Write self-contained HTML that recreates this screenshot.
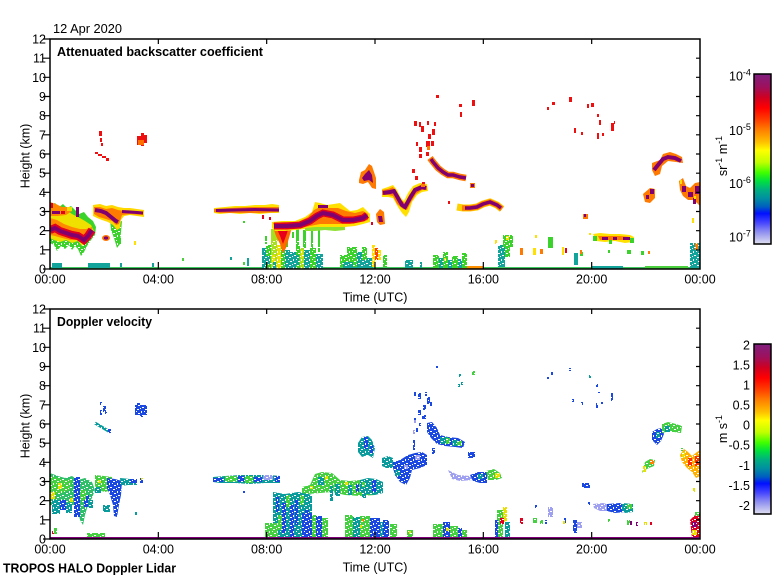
<!DOCTYPE html>
<html><head><meta charset="utf-8"><style>
html,body{margin:0;padding:0;background:#fff;}
svg{display:block;font-family:"Liberation Sans",Arial,sans-serif;}
</style></head><body>
<svg width="780" height="580" viewBox="0 0 780 580" xmlns="http://www.w3.org/2000/svg">
<defs>
<linearGradient id="cb" x1="0" y1="0" x2="0" y2="1">
<stop offset="0" stop-color="#7f1f7f"/>
<stop offset="0.08" stop-color="#a0105a"/>
<stop offset="0.14" stop-color="#d00020"/>
<stop offset="0.20" stop-color="#ff0000"/>
<stop offset="0.27" stop-color="#ff4000"/>
<stop offset="0.33" stop-color="#ff8000"/>
<stop offset="0.40" stop-color="#ffc000"/>
<stop offset="0.45" stop-color="#ffff00"/>
<stop offset="0.52" stop-color="#c0ff00"/>
<stop offset="0.58" stop-color="#40ff00"/>
<stop offset="0.63" stop-color="#00e040"/>
<stop offset="0.68" stop-color="#00b080"/>
<stop offset="0.73" stop-color="#0090a0"/>
<stop offset="0.78" stop-color="#0060c0"/>
<stop offset="0.82" stop-color="#0010ff"/>
<stop offset="0.87" stop-color="#4040ff"/>
<stop offset="0.93" stop-color="#9090f0"/>
<stop offset="1" stop-color="#e0e0f0"/>
</linearGradient>
<pattern id="sp" x="0" y="0" width="8" height="8" patternUnits="userSpaceOnUse">
<rect x="1" y="1" width="2" height="1" fill="#fff"/>
<rect x="5" y="3" width="1" height="2" fill="#fff"/>
<rect x="2" y="5" width="2" height="1" fill="#fff"/>
<rect x="6" y="7" width="2" height="1" fill="#fff"/>
<rect x="0" y="3" width="1" height="1" fill="#fff"/>
<rect x="4" y="0" width="1" height="1" fill="#fff"/>
</pattern>
<clipPath id="c1"><rect x="50" y="39" width="650" height="230"/></clipPath>
<clipPath id="c2"><rect x="50" y="309" width="650" height="230"/></clipPath>
</defs>
<rect width="780" height="580" fill="#fff"/>

<!-- ================= TOP PANEL DATA ================= -->
<g clip-path="url(#c1)">
<!-- ground -->
<rect x="50" y="267" width="650" height="2" fill="#40c860"/>
<path fill="#12a39a" d="M52 263h10v5h-10z M88 263h22v5h-22z M120 263h2v4h-2z M152 263h2v4h-2z M230 257h2v3h-2z M247 258h2v8h-2z M592 266h31v3h-31z M353 260h20v8h-20z M405 260h8v8h-8z"/>
<path fill="#4cd040" d="M182 258h2v3h-2z M243 262h2v3h-2z M645 266h43v3h-43z"/>
<path fill="#ff9000" d="M457 266h26v3h-26z"/>

<!-- left complex 00:00-01:20 -->
<polygon fill="#3cd22c" points="50,205 55,203 59,207 63,204 67,208 71,206 75,210 79,214 84,212 88,217 93,221 96,227 95,235 91,240 87,246 84,252 81,256 78,249 75,246 72,250 69,245 65,249 61,246 57,251 54,245 50,243"/>
<rect x="50" y="236" width="46" height="21" fill="url(#sp)"/>
<polygon fill="#f0e000" points="50,211 55,208 60,212 66,210 72,214 78,217 85,221 91,225 94,231 90,237 86,242 82,246 78,241 72,243 66,240 60,242 54,240 50,238"/>
<polygon fill="#ff8a00" points="50,218 57,220 64,224 72,227 80,229 86,229 92,227 93,234 88,240 84,245 78,240 70,240 62,238 55,236 50,235"/>
<polygon fill="#ff8a00" points="50,202 56,204 62,207 68,207 72,211 66,215 58,216 50,216"/>
<polyline fill="none" stroke="#e00020" stroke-width="8" points="50,230 55,228 60,231 66,233 72,235 78,236 84,240 88,236 92,230"/>
<polyline fill="none" stroke="#800070" stroke-width="4" points="50,230 55,228 60,231 66,233 72,235 78,236 84,240 88,236 92,230"/>
<path fill="#800070" d="M52 211h8v3h-8z M76 207h3v10h-3z"/>
<path fill="#e00020" d="M61 211h4v3h-4z M50 203h3v5h-3z"/>
<path fill="#f0e000" d="M67 207h5v4h-5z"/>

<!-- 01:30-02:40 cloud -->
<polygon fill="#3cd22c" points="110,220 119,222 122,221 121,232 120,244 117,248 114,238 111,230"/>
<rect x="110" y="226" width="13" height="22" fill="url(#sp)"/>
<polygon fill="#ffd800" points="93,205 100,204 106,206 112,205 118,207 124,208 130,208 137,209 144,210 144,217 137,216 130,215 124,216 121,220 120,228 117,230 113,225 108,222 102,220 97,218 93,216"/>
<polygon fill="#ff7a00" points="94,207 100,207 106,209 112,208 118,210 124,211 130,211 137,212 143,212 143,215 130,214 122,215 119,224 116,225 112,221 106,219 99,217 94,214"/>
<polyline fill="none" stroke="#800070" stroke-width="4" points="95,210 101,211 106,213 111,217 116,221 118,222"/>
<polyline fill="none" stroke="#800070" stroke-width="3" points="122,211.5 130,212 137,212.5 143,213"/>
<ellipse cx="106" cy="238" rx="4" ry="3" fill="#ff7a00"/>
<ellipse cx="106" cy="238" rx="2.2" ry="1.6" fill="#800070"/>
<path fill="#3cd22c" d="M118 238h3v6h-3z"/>
<path fill="#ffe000" d="M134 241h2v4h-2z"/>

<!-- high red bits early -->
<path fill="#ee1010" d="M99 131h3v5h-3z M100 138h2v4h-2z M101 143h2v3h-2z M137 136h4v9h-4z M141 133h3v13h-3z M144 135h3v8h-3z M95 152h3v2h-3z M98 154h4v2h-4z M102 156h4v2h-4z M106 158h3v3h-3z"/>
<path fill="#ff7000" d="M138 140h6v5h-6z"/>

<!-- 06:00-08:00 band -->
<polygon fill="#ffe000" points="214,208 225,207 235,206 245,206 255,205 265,205 272,204 279,205 279,213 270,213 260,214 250,213 240,214 230,213 220,214 214,213"/>
<polygon fill="#ff7a00" points="214,209 230,208 250,207 270,207 279,207 279,212 260,213 240,213 220,213 214,212"/>
<polyline fill="none" stroke="#800070" stroke-width="3" points="216,210.5 235,210 255,209.5 279,210"/>
<path fill="#e00020" d="M262 215h2v4h-2z M269 217h2v3h-2z"/>
<path fill="#3cd22c" d="M243 221h2v2h-2z"/>

<!-- 08:00 cloud: streaks below -->
<path fill="#12a39a" d="M262 248h4v21h-4z M285 250h5v19h-5z M290 252h6v17h-6z M304 250h6v19h-6z M316 254h7v15h-7z"/>
<path fill="#3cd22c" d="M266 245h5v24h-5z M281 246h4v23h-4z M296 246h4v23h-4z M310 248h6v21h-6z"/>
<path fill="#a8e020" d="M271 240h6v29h-6z M300 248h4v21h-4z"/>
<path fill="#f0e000" d="M277 245h4v24h-4z M272 255h3v8h-3z M301 250h2v8h-2z"/>
<path fill="#12a39a" d="M266 256h4v8h-4z M296 255h3v10h-3z M273 262h3v7h-3z"/>
<path fill="#3cd22c" d="M286 229h2v18h-2z M296 229h3v18h-3z M303 230h3v18h-3z M311 229h2v19h-2z M318 230h2v22h-2z M292 232h2v6h-2z M265 236h2v8h-2z"/>
<path fill="#a8e020" d="M271 229h7v12h-7z"/>
<rect x="262" y="240" width="62" height="29" fill="url(#sp)"/>
<polygon fill="#ff6a00" points="273,227 292,227 289,238 286,248 283,253 280,244 276,236"/>
<polygon fill="#e8001a" points="276,227 289,227 286,236 283,244 280,236"/>
<!-- 08:00 cloud layer -->
<polygon fill="#ffe000" points="272,222 282,221 295,221 305,217 312,212 315,202 320,203 327,205 334,204 340,203 345,207 350,211 357,210 363,207 368,212 370,214 370,222 363,224 355,226 345,227 335,227 325,227 315,228 305,229 295,230 285,231 275,231 272,228"/>
<polygon fill="#8ee030" points="305,228 315,227 325,227 335,227 345,227 345,230 335,231 325,230 315,231 305,231"/>
<polygon fill="#ff7a00" points="273,223 285,222 298,222 308,217 314,210 320,207 328,208 338,208 346,211 355,213 363,211 368,214 368,220 360,222 350,224 340,224 330,224 320,224 310,226 300,228 288,229 276,229"/>
<polyline fill="none" stroke="#e00020" stroke-width="7" points="274,226 287,226 300,225 310,221 317,216 323,213 333,215 343,220 353,220 363,218 367,215"/>
<polyline fill="none" stroke="#800070" stroke-width="4" points="274,226 287,226 300,225 310,221 317,216 323,213 333,215 343,220 353,220 363,218 367,215"/>
<path fill="#800070" d="M318 205h10v3h-10z"/>
<!-- small cloud at 12:00 -->
<polygon fill="#ff7a00" points="376,214 380,209 384,212 385,224 380,225 377,222"/>
<polygon fill="#800070" points="378,216 382,216 383,222 379,222"/>
<path fill="#e00020" d="M371 222h2v3h-2z"/>

<!-- ground stuff 12:00-13:30 -->
<path fill="#3cd22c" d="M347 247h10v20h-10z M362 247h5v13h-5z M340 255h7v12h-7z M383 255h4v12h-4z"/>
<path fill="#12a39a" d="M357 252h5v15h-5z M367 258h5v10h-5z M343 262h10v6h-10z"/>
<path fill="#ffe000" d="M372 245h3v22h-3z M378 250h3v10h-3z"/>
<path fill="#ff4000" d="M375 248h3v12h-3z"/>
<path fill="#3cd22c" d="M433 255h6v13h-6z M443 252h5v16h-5z M452 256h6v12h-6z M462 253h5v15h-5z"/>
<path fill="#12a39a" d="M439 258h4v10h-4z M448 260h4v8h-4z M458 259h4v9h-4z M420 262h2v6h-2z"/>
<path fill="#ffe000" d="M444 258h2v3h-2z"/>
<rect x="338" y="244" width="130" height="23" fill="url(#sp)"/>

<!-- cloud 12:10 -->
<polygon fill="#ff7a00" points="359,180 361,172 365,170 369,164 372,166 374,172 376,178 376,189 372,188 368,182 363,184 359,183"/>
<polygon fill="#800070" points="362,178 365,174 369,170 372,175 373,183 369,180 364,181"/>
<!-- wave 12:30-14:00 -->
<polygon fill="#ffe000" points="382,189 388,187 393,185 397,190 401,198 404,201 408,193 413,186 420,183 427,184 428,191 422,192 417,195 412,202 409,212 406,217 402,213 398,207 393,198 388,197 382,197"/>
<polygon fill="#ff7a00" points="382,190 388,189 393,187 397,193 401,200 405,203 409,195 414,188 421,185 427,186 427,190 422,190 416,194 411,202 407,210 403,209 397,204 393,196 388,195 382,195"/>
<polyline fill="none" stroke="#800070" stroke-width="4" points="383,193 390,192 394,191 398,198 402,205 405,207 410,198 415,190 422,187 426,188"/>
<!-- red rising -->
<path fill="#ee1010" d="M414 121h3v5h-3z M419 122h2v5h-2z M421 126h3v6h-3z M427 121h2v4h-2z M434 122h2v4h-2z M432 129h3v6h-3z M428 134h3v5h-3z M426 141h4v6h-4z M431 141h3v5h-3z M416 142h2v4h-2z M419 147h3v5h-3z M419 154h3v4h-3z M426 152h3v4h-3z M412 169h3v4h-3z M415 176h3v4h-3z M422 182h3v4h-3z M436 95h3v3h-3z M459 104h3v3h-3z M460 112h2v5h-2z M472 100h3v6h-3z M448 201h2v3h-2z"/>
<path fill="#ff7a00" d="M427 146h3v4h-3z M421 184h4v3h-4z"/>
<!-- band 14:20-15:30 -->
<polyline fill="none" stroke="#ff7a00" stroke-width="6.5" points="430,158 433,162 438,168 443,172 448,175 453,175 460,177 466,178"/>
<polyline fill="none" stroke="#800070" stroke-width="3.5" points="431,159 433,162 438,168 443,172 448,175 453,175 460,177 466,178"/>
<path fill="#ff7a00" d="M470 183h5v5h-5z"/>
<path fill="#800070" d="M471 184h3v3h-3z"/>
<!-- band 15:30-16:40 -->
<polyline fill="none" stroke="#ffd000" stroke-width="7" points="457,207 463,208 470,208 477,207 483,204 490,202 497,205 502,209"/>
<polyline fill="none" stroke="#ff7a00" stroke-width="5.5" points="462,208 470,208 477,207 483,204 490,202 497,205 502,209"/>
<polyline fill="none" stroke="#800070" stroke-width="3.5" points="465,208 470,208 477,207 483,204 490,202 497,205 501,208"/>

<!-- right side -->
<path fill="#ee1010" d="M552 102h3v3h-3z M569 97h3v5h-3z M547 107h2v3h-2z M587 104h2v4h-2z M591 103h3v4h-3z M597 114h2v3h-2z M599 120h2v5h-2z M611 123h3v8h-3z M614 121h1v3h-1z M574 128h2v5h-2z M581 132h2v3h-2z M597 133h2v6h-2z M602 133h2v3h-2z"/>
<path fill="#ff7a00" d="M583 214h5v5h-5z"/>
<path fill="#800070" d="M584 214h2v3h-2z"/>
<polygon fill="#ffe000" points="593,234 600,233 610,234 620,234 630,235 634,237 633,242 625,243 615,241 605,242 596,241"/>
<polygon fill="#ff7a00" points="598,236 610,236 620,236 630,237 630,240 620,240 610,240 600,240"/>
<path fill="#800070" d="M602 237h6v3h-6z M613 237h4v3h-4z M623 237h7v3h-7z"/>
<path fill="#3cd22c" d="M593 236h4v5h-4z M630 238h4v5h-4z M609 240h3v4h-3z"/>
<polygon fill="#ff7a00" points="643,194 650,188 655,189 655,198 650,203 645,202"/>
<path fill="#800070" d="M650 189h4v5h-4z M646 195h3v4h-3z"/>
<polygon fill="#ff7a00" points="652,163 660,160 663,154 670,152 676,154 682,157 683,163 676,162 668,161 662,166 660,174 655,176 652,170"/>
<polyline fill="none" stroke="#800070" stroke-width="4" points="654,170 658,165 663,159 668,157 675,158 681,161"/>
<polygon fill="#ff7a00" points="679,181 683,178 686,186 690,188 695,183 700,182 700,206 694,200 688,200 683,196 680,190"/>
<path fill="#800070" d="M682 186h4v6h-4z M688 192h5v5h-5z M695 186h5v8h-5z M693 198h3v6h-3z"/>
<path fill="#ffe000" d="M680 180h2v4h-2z M694 196h2v3h-2z M692 218h2v5h-2z"/>
<!-- right ground -->
<path fill="#12a39a" d="M498 245h7v22h-7z M574 253h4v12h-4z M690 243h10v25h-10z"/>
<path fill="#3cd22c" d="M503 235h10v12h-10z M505 247h5v10h-5z M548 237h5v11h-5z M608 250h2v3h-2z M580 252h3v4h-3z M627 250h4v4h-4z M641 251h3v4h-3z"/>
<path fill="#ffe000" d="M495 240h2v4h-2z M535 235h2v3h-2z M533 248h3v7h-3z M562 247h2v8h-2z M589 233h2v2h-2z M506 236h3v4h-3z"/>
<path fill="#ff7a00" d="M520 248h3v7h-3z M540 249h3v5h-3z M580 250h2v4h-2z M695 243h3v7h-3z M648 251h2v3h-2z"/>
<path fill="#e00020" d="M565 248h2v5h-2z"/>
<rect x="495" y="234" width="20" height="33" fill="url(#sp)"/>
<rect x="688" y="242" width="12" height="25" fill="url(#sp)"/>
</g>

<!-- ================= BOTTOM PANEL DATA ================= -->
<g clip-path="url(#c2)">
<!-- left complex -->
<polygon fill="#2fbf6a" points="50,473 58,476 65,478 72,476 78,480 85,478 92,482 95,490 92,498 88,505 85,515 83,525 80,520 77,505 72,505 68,510 63,505 58,510 54,505 50,505"/>
<polygon fill="#44d040" points="50,476 58,478 66,480 72,479 70,490 62,493 54,494 50,493"/>
<path fill="#e8e000" d="M50 492h5v7h-5z M58 483h4v6h-4z M70 498h3v4h-3z"/>
<path fill="#1a48e0" d="M74 477h6v40h-6z M60 500h6v10h-6z M84 495h5v12h-5z"/>
<path fill="#0a9c9c" d="M52 500h8v14h-8z M66 503h6v10h-6z M88 500h5v8h-5z"/>
<path fill="#44d040" d="M80 490h6v10h-6z"/>
<path fill="#e00020" d="M52 531h2v3h-2z"/>
<path fill="#44d040" d="M87 533h18v4h-18z M54 528h3v6h-3z"/>
<!-- 01:30-02:40 -->
<polygon fill="#44d040" points="95,475 104,476 112,477 112,490 105,492 98,490 95,486"/>
<polygon fill="#1a48e0" points="107,478 115,479 122,481 121,495 119,505 117,517 114,516 113,505 110,495 107,488"/>
<polygon fill="#0a9c9c" points="120,478 130,479 137,480 137,485 128,485 121,486"/>
<path fill="#1a48e0" d="M130 479h7v4h-7z M140 478h3v5h-3z"/>
<path fill="#0a9c9c" d="M103 505h7v7h-7z M135 512h2v3h-2z M95 487h6v6h-6z"/>
<path fill="#e8e000" d="M98 480h3v3h-3z M141 478h2v2h-2z"/>
<!-- h7 blobs -->
<path fill="#1a48e0" d="M100 402h2v3h-2z M103 406h3v6h-3z M100 410h2v5h-2z M105 412h2v2h-2z M135 405h12v10h-12z M137 403h3v3h-3z M140 414h3v3h-3z"/>
<polyline fill="none" stroke="#0a9c9c" stroke-width="3" points="95,423 100,426 105,429 110,432"/>
<path fill="#1a48e0" d="M108 429h3v4h-3z"/>
<!-- 06:00-08:00 band -->
<polygon fill="#0a9c9c" points="213,477 225,476 240,475 255,475 270,475 280,476 280,483 265,483 250,484 235,483 220,483 213,482"/>
<path fill="#44d040" d="M225 476h12v6h-12z M245 476h8v7h-8z"/>
<path fill="#1a48e0" d="M213 478h10v4h-10z M238 476h6v6h-6z M254 477h8v5h-8z M275 476h5v6h-5z"/>
<path fill="#a0a0f0" d="M263 475h10v5h-10z"/>
<path fill="#1a48e0" d="M243 491h2v2h-2z"/>
<!-- 08:00 cloud -->
<polygon fill="#0a9c9c" points="273,492 285,494 298,492 305,493 312,495 312,538 273,538"/>
<path fill="#1a48e0" d="M282 503h4v30h-4z M290 505h4v32h-4z M295 500h3v25h-3z M276 497h3v15h-3z M305 510h4v20h-4z"/>
<path fill="#44d040" d="M265 523h13v15h-13z M286 495h4v12h-4z M300 495h4v10h-4z M278 515h4v15h-4z"/>
<polygon fill="#44d040" points="302,487 310,485 315,474 322,472 332,473 340,480 350,481 360,480 370,481 375,484 375,495 360,496 345,495 332,492 320,493 308,494 302,493"/>
<path fill="#0a9c9c" d="M318 477h6v8h-6z M335 484h5v12h-5z M348 485h4v10h-4z M362 486h4v12h-4z M330 486h3v15h-3z"/>
<path fill="#e8e000" d="M325 476h3v4h-3z M345 482h3v3h-3z M310 486h3v3h-3z"/>
<path fill="#1a48e0" d="M356 484h3v8h-3z M370 488h3v5h-3z"/>
<!-- ground stuff 08-13 -->
<path fill="#1a48e0" d="M302 513h10v25h-10z M316 516h6v22h-6z M370 518h10v20h-10z M383 520h6v18h-6z"/>
<path fill="#44d040" d="M312 515h4v23h-4z M322 518h6v20h-6z M345 515h8v23h-8z M360 516h10v22h-10z M390 524h7v14h-7z M407 530h6v8h-6z"/>
<path fill="#0a9c9c" d="M353 517h7v21h-7z M380 522h3v16h-3z"/>
<path fill="#e8e000" d="M360 525h2v3h-2z M409 531h2v3h-2z"/>
<path fill="#ff8000" d="M362 519h2v3h-2z"/>
<!-- 12:00-13:30 aloft -->
<polygon fill="#0a9c9c" points="358,443 362,437 368,436 372,440 375,448 373,458 368,455 362,457 358,452"/>
<path fill="#1a48e0" d="M364 437h4v12h-4z M370 445h3v8h-3z"/>
<polygon fill="#0a9c9c" points="360,480 368,478 376,479 383,482 383,493 375,495 366,494 360,492"/>
<path fill="#1a48e0" d="M372 480h4v12h-4z"/>
<path fill="#44d040" d="M362 482h3v5h-3z"/>
<polygon fill="#0a9c9c" points="382,458 388,456 393,458 393,468 386,468 382,466"/>
<polygon fill="#1a48e0" points="393,462 400,460 408,455 415,453 422,452 427,455 427,465 420,468 412,470 410,478 406,485 400,482 395,475 393,468"/>
<path fill="#a0a0f0" d="M415 455h5v5h-5z M404 465h4v4h-4z"/>
<path fill="#0a9c9c" d="M395 470h5v6h-5z"/>
<!-- scattered rising -->
<path fill="#1a48e0" d="M414 391h2v5h-2z M418 393h3v6h-3z M425 392h2v4h-2z M427 397h3v7h-3z M430 402h2v4h-2z M423 405h3v5h-3z M418 410h3v5h-3z M422 415h4v4h-4z M414 418h2v6h-2z M419 423h2v3h-2z M416 428h2v4h-2z M413 440h2v10h-2z M436 366h2v2h-2z M551 372h2v3h-2z M547 377h2v2h-2z M569 368h2v3h-2z M596 384h2v3h-2z M598 391h2v2h-2z M611 393h2v8h-2z M572 399h2v3h-2z M581 402h2v3h-2z M596 403h2v5h-2z M601 402h2v2h-2z"/>
<path fill="#a0a0f0" d="M414 420h2v3h-2z M413 430h2v4h-2z"/>
<path fill="#0a9c9c" d="M459 374h2v3h-2z M458 384h2v3h-2z M461 382h2v3h-2z M589 375h2v3h-2z"/>
<path fill="#44d040" d="M472 371h3v4h-3z"/>
<!-- band 14:10-15:30 -->
<polygon fill="#1a48e0" points="427,423 432,422 437,428 440,435 448,437 458,438 465,442 463,448 455,447 445,446 437,444 431,438 427,432"/>
<path fill="#0a9c9c" d="M440 437h8v7h-8z M452 440h6v6h-6z"/>
<path fill="#44d040" d="M446 438h4v6h-4z M457 441h5v5h-5z"/>
<path fill="#1a48e0" d="M468 452h7v6h-7z M432 448h3v6h-3z"/>
<!-- band 15:20-16:40 -->
<polygon fill="#a0a0f0" points="448,470 458,475 470,476 473,480 460,481 452,479"/>
<polygon fill="#1a48e0" points="470,475 478,472 487,472 487,483 480,483 473,481"/>
<polygon fill="#44d040" points="486,471 494,469 500,473 502,478 496,480 488,480"/>
<path fill="#0a9c9c" d="M478 474h5v5h-5z"/>
<path fill="#e8e000" d="M495 473h5v5h-5z"/>
<!-- near ground 14:00-16:40 -->
<path fill="#44d040" d="M433 524h10v14h-10z M450 526h8v12h-8z M462 530h5v8h-5z M497 510h6v27h-6z"/>
<path fill="#1a48e0" d="M443 522h7v16h-7z M458 528h4v10h-4z M495 520h3v17h-3z"/>
<path fill="#e8e000" d="M503 507h4v15h-4z M446 528h3v3h-3z"/>
<path fill="#e00020" d="M500 518h4v6h-4z M520 518h3v6h-3z"/>
<path fill="#0a9c9c" d="M505 522h5v15h-5z"/>
<!-- right side -->
<path fill="#1a48e0" d="M582 483h8v5h-8z M588 502h2v3h-2z M535 505h2v3h-2z M545 520h2v4h-2z M573 520h4v13h-4z M564 518h2v5h-2z"/>
<path fill="#a0a0f0" d="M548 507h5v10h-5z M577 522h5v6h-5z"/>
<path fill="#44d040" d="M533 518h4v5h-4z M540 520h3v4h-3z M608 519h2v3h-2z M627 520h3v5h-3z"/>
<path fill="#e8e000" d="M563 521h2v3h-2z M644 522h3v3h-3z"/>
<path fill="#800078" d="M636 522h2v4h-2z M630 521h2v4h-2z"/>
<path fill="#e00020" d="M650 522h2v4h-2z"/>
<polygon fill="#a0a0f0" points="593,504 603,503 610,505 610,511 600,511 594,508"/>
<polygon fill="#1a48e0" points="607,504 620,503 625,506 625,512 615,513 607,511"/>
<polygon fill="#0a9c9c" points="622,503 633,504 633,512 625,513 622,510"/>
<path fill="#44d040" d="M627 504h5v5h-5z"/>
<polygon fill="#1a48e0" points="652,432 657,429 662,428 664,434 661,441 657,445 652,440"/>
<polygon fill="#44d040" points="662,424 668,422 676,424 682,426 681,433 674,432 666,432 662,433"/>
<path fill="#0a9c9c" d="M665 426h5v6h-5z M656 432h4v6h-4z"/>
<polygon fill="#44d040" points="645,462 650,459 655,460 654,466 649,468 645,470 642,473"/>
<path fill="#e8e000" d="M643 466h3v6h-3z"/>
<path fill="#ff8000" d="M650 460h4v4h-4z"/>
<polygon fill="#ffb000" points="680,455 684,449 688,452 692,456 697,452 700,450 700,476 696,478 692,472 687,468 682,462"/>
<path fill="#ff3000" d="M688 458h4v8h-4z M695 456h4v10h-4z"/>
<path fill="#e8e000" d="M682 452h3v6h-3z M693 488h2v4h-2z"/>
<path fill="#44d040" d="M681 448h2v3h-2z"/>
<polygon fill="#e00020" points="690,520 695,515 700,513 700,538 692,538"/>
<path fill="#800078" d="M692 522h5v5h-5z"/>
<path fill="#e8e000" d="M692 530h5v5h-5z"/>
<path fill="#44d040" d="M695 512h4v4h-4z"/>
<!-- speckle over doppler data -->
<rect x="50" y="309" width="650" height="228" fill="url(#sp)"/>
<rect x="50" y="537" width="650" height="2.5" fill="#800078"/>
</g>

<!-- ================= AXES ================= -->
<g fill="none" stroke="#000" stroke-width="1.5">
<rect x="50" y="39" width="650" height="230"/>
<rect x="50" y="309" width="650" height="230"/>
</g>
<g stroke="#000" stroke-width="1.2" fill="none">
<path d="M43 269H50M43 249.83H50M43 230.67H50M43 211.5H50M43 192.33H50M43 173.17H50M43 154H50M43 134.83H50M43 115.67H50M43 96.5H50M43 77.33H50M43 58.17H50M43 39H50"/>
<path d="M696 249.83H700M696 230.67H700M696 211.5H700M696 192.33H700M696 173.17H700M696 154H700M696 134.83H700M696 115.67H700M696 96.5H700M696 77.33H700M696 58.17H700"/>
<path d="M158.33 39V44M266.67 39V44M375 39V44M483.33 39V44M591.67 39V44"/>
<path d="M158.33 269V262M266.67 269V262M375 269V262M483.33 269V262M591.67 269V262"/>
<path d="M43 539H50M43 519.83H50M43 500.67H50M43 481.5H50M43 462.33H50M43 443.17H50M43 424H50M43 404.83H50M43 385.67H50M43 366.5H50M43 347.33H50M43 328.17H50M43 309H50"/>
<path d="M696 519.83H700M696 500.67H700M696 481.5H700M696 462.33H700M696 443.17H700M696 424H700M696 404.83H700M696 385.67H700M696 366.5H700M696 347.33H700M696 328.17H700"/>
<path d="M158.33 309V314M266.67 309V314M375 309V314M483.33 309V314M591.67 309V314"/>
<path d="M158.33 539V532M266.67 539V532M375 539V532M483.33 539V532M591.67 539V532"/>
</g>

<!-- y labels -->
<g font-size="12.5" fill="#000" text-anchor="end">
<text x="46" y="273.5">0</text><text x="46" y="254.3">1</text><text x="46" y="235.2">2</text><text x="46" y="216">3</text><text x="46" y="196.8">4</text><text x="46" y="177.7">5</text><text x="46" y="158.5">6</text><text x="46" y="139.3">7</text><text x="46" y="120.2">8</text><text x="46" y="101">9</text><text x="46" y="81.8">10</text><text x="46" y="62.7">11</text><text x="46" y="43.5">12</text>
<text x="46" y="543.5">0</text><text x="46" y="524.3">1</text><text x="46" y="505.2">2</text><text x="46" y="486">3</text><text x="46" y="466.8">4</text><text x="46" y="447.7">5</text><text x="46" y="428.5">6</text><text x="46" y="409.3">7</text><text x="46" y="390.2">8</text><text x="46" y="371">9</text><text x="46" y="351.8">10</text><text x="46" y="332.7">11</text><text x="46" y="313.5">12</text>
</g>
<!-- x labels -->
<g font-size="12.5" fill="#000" text-anchor="middle">
<text x="50" y="283.5">00:00</text><text x="158.33" y="283.5">04:00</text><text x="266.67" y="283.5">08:00</text><text x="375" y="283.5">12:00</text><text x="483.33" y="283.5">16:00</text><text x="591.67" y="283.5">20:00</text><text x="700" y="283.5">00:00</text>
<text x="50" y="553.5">00:00</text><text x="158.33" y="553.5">04:00</text><text x="266.67" y="553.5">08:00</text><text x="375" y="553.5">12:00</text><text x="483.33" y="553.5">16:00</text><text x="591.67" y="553.5">20:00</text><text x="700" y="553.5">00:00</text>
<text x="375" y="301.5">Time (UTC)</text>
<text x="375" y="571.5">Time (UTC)</text>
</g>
<text x="29.5" y="156" font-size="12.5" text-anchor="middle" transform="rotate(-90 29.5 156)">Height (km)</text>
<text x="29.5" y="426" font-size="12.5" text-anchor="middle" transform="rotate(-90 29.5 426)">Height (km)</text>

<text x="53" y="33" font-size="12.5" textLength="69" lengthAdjust="spacingAndGlyphs">12 Apr 2020</text>
<text x="57" y="56" font-size="13" font-weight="bold" textLength="206" lengthAdjust="spacingAndGlyphs">Attenuated backscatter coefficient</text>
<text x="57" y="326" font-size="13" font-weight="bold" textLength="95" lengthAdjust="spacingAndGlyphs">Doppler velocity</text>
<text x="3" y="572.5" font-size="13" font-weight="bold" textLength="173" lengthAdjust="spacingAndGlyphs">TROPOS HALO Doppler Lidar</text>

<!-- colorbars -->
<rect x="754" y="74" width="17" height="170" fill="url(#cb)" stroke="#000" stroke-width="1.5"/>
<rect x="754" y="344" width="17" height="170" fill="url(#cb)" stroke="#000" stroke-width="1.5"/>
<g font-size="12.5" fill="#000">
<text x="729" y="80.5">10<tspan font-size="9" dy="-5">-4</tspan></text>
<text x="729" y="135">10<tspan font-size="9" dy="-5">-5</tspan></text>
<text x="729" y="188">10<tspan font-size="9" dy="-5">-6</tspan></text>
<text x="729" y="241.5">10<tspan font-size="9" dy="-5">-7</tspan></text>
</g>
<text x="727" y="156" font-size="12.5" text-anchor="middle" transform="rotate(-90 727 156)">sr<tspan font-size="9" dy="-5">-1</tspan><tspan dy="5"> m</tspan><tspan font-size="9" dy="-5">-1</tspan></text>
<g font-size="12.5" fill="#000" text-anchor="end">
<text x="750" y="349.3">2</text><text x="750" y="369.4">1.5</text><text x="750" y="389.5">1</text><text x="750" y="409.5">0.5</text><text x="750" y="429.6">0</text><text x="750" y="449.7">-0.5</text><text x="750" y="469.8">-1</text><text x="750" y="489.8">-1.5</text><text x="750" y="509.9">-2</text>
</g>
<text x="727" y="429" font-size="12.5" text-anchor="middle" transform="rotate(-90 727 429)">m s<tspan font-size="9" dy="-5">-1</tspan></text>
</svg>
</body></html>
